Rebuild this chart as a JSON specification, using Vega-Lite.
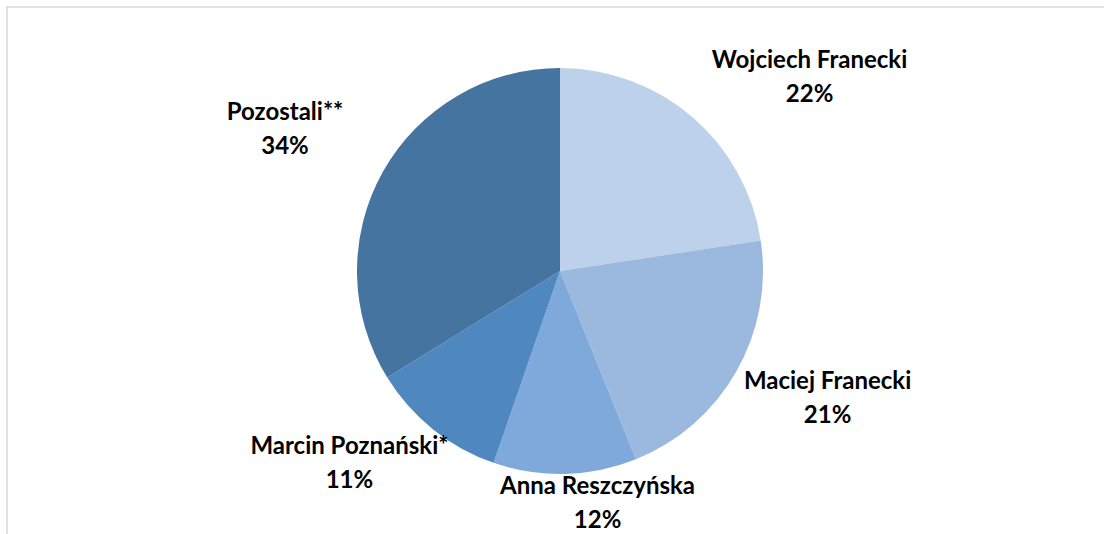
{
  "$schema": "https://vega.github.io/schema/vega-lite/v6.json",
  "width": 1106,
  "height": 528,
  "padding": {"left": 7, "top": 7, "right": 0, "bottom": 0},
  "autosize": {"type": "none"},
  "background": "white",
  "view": {"stroke": "#d9d9d9", "strokeWidth": 1.5},
  "config": {
    "view": {"stroke": "#d9d9d9", "strokeWidth": 1.5},
    "text": {"font": "Lato"}
  },
  "data": {
    "values": [
      {"name": "Wojciech Franecki", "share": 22.6, "label": "Wojciech Franecki\n22%"},
      {"name": "Maciej Franecki", "share": 21.3, "label": "Maciej Franecki\n21%"},
      {"name": "Anna Reszczyńska", "share": 11.4, "label": "Anna Reszczyńska\n12%"},
      {"name": "Marcin Poznański*", "share": 10.9, "label": "Marcin Poznański*\n11%"},
      {"name": "Pozostali**", "share": 33.8, "label": "Pozostali**\n34%"}
    ]
  },
  "encoding": {
    "theta": {"field": "share", "type": "quantitative", "stack": true},
    "order": {"field": "order", "type": "quantitative"}
  },
  "transform": [{"window": [{"op": "row_number", "as": "order"}]}],
  "layer": [
    {
      "mark": {"type": "arc", "outerRadius": 203},
      "encoding": {
        "color": {
          "field": "name", "type": "nominal", "legend": null,
          "scale": {
            "domain": ["Wojciech Franecki", "Maciej Franecki", "Anna Reszczyńska", "Marcin Poznański*", "Pozostali**"],
            "range": ["#bdd1ea", "#9bb8df", "#7ea9da", "#4e88bf", "#44749f"]
          }
        }
      }
    },
    {
      "mark": {"type": "text", "radius": 300, "dx": 54, "dy": 18, "fontSize": 24, "fontWeight": "bold", "lineBreak": "\n", "lineHeight": 34, "baseline": "middle", "align": "center", "color": "#000000"},
      "encoding": {"text": {"condition": {"test": "datum.name === 'Wojciech Franecki'", "field": "label"}, "value": ""}}
    },
    {
      "mark": {"type": "text", "radius": 300, "dx": 7, "dy": -38, "fontSize": 24, "fontWeight": "bold", "lineBreak": "\n", "lineHeight": 34, "baseline": "middle", "align": "center", "color": "#000000"},
      "encoding": {"text": {"condition": {"test": "datum.name === 'Maciej Franecki'", "field": "label"}, "value": ""}}
    },
    {
      "mark": {"type": "text", "radius": 300, "dx": 30, "dy": -84, "fontSize": 24, "fontWeight": "bold", "lineBreak": "\n", "lineHeight": 34, "baseline": "middle", "align": "center", "color": "#000000"},
      "encoding": {"text": {"condition": {"test": "datum.name === 'Anna Reszczyńska'", "field": "label"}, "value": ""}}
    },
    {
      "mark": {"type": "text", "radius": 300, "dx": -23, "dy": -58, "fontSize": 24, "fontWeight": "bold", "lineBreak": "\n", "lineHeight": 34, "baseline": "middle", "align": "center", "color": "#000000"},
      "encoding": {"text": {"condition": {"test": "datum.name === 'Marcin Poznański*'", "field": "label"}, "value": ""}}
    },
    {
      "mark": {"type": "text", "radius": 300, "dx": -13, "dy": -12, "fontSize": 24, "fontWeight": "bold", "lineBreak": "\n", "lineHeight": 34, "baseline": "middle", "align": "center", "color": "#000000"},
      "encoding": {"text": {"condition": {"test": "datum.name === 'Pozostali**'", "field": "label"}, "value": ""}}
    }
  ]
}
